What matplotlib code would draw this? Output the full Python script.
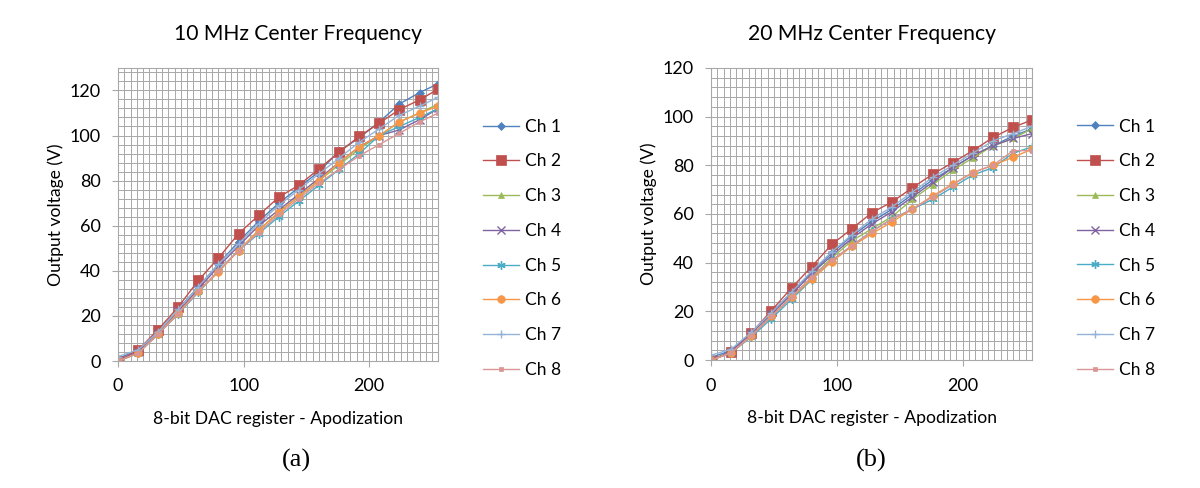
import matplotlib.pyplot as plt
from matplotlib.ticker import MultipleLocator
import numpy as np

plt.rcParams['font.family'] = ['Lato', 'DejaVu Sans']

# DAC register codes (same for both panels)
dac = [0, 16, 32, 48, 64, 80, 96, 112, 128, 144, 160, 176, 192, 208, 224, 240, 255]

channels = ['Ch 1', 'Ch 2', 'Ch 3', 'Ch 4', 'Ch 5', 'Ch 6', 'Ch 7', 'Ch 8']

# 10 MHz center frequency, output voltage (V)
v10_ch1 = [1, 5, 13, 23, 33, 43, 53, 62, 70, 77, 84, 93, 99, 106, 114, 119, 123]
v10_ch2 = [0, 4.9, 14, 24, 35.8, 45.7, 56.5, 64.6, 72.7, 78, 85.2, 92.6, 99.6, 105.5, 111.5, 115.8, 120.6]
v10_ch3 = [0, 3.5, 12, 21, 31, 40, 49, 58, 66, 73, 80, 87, 94, 100, 106, 110, 114]
v10_ch4 = [0, 4, 12.5, 22, 32, 42, 51, 60, 67, 74, 81, 88, 95, 100, 102.5, 107, 112]
v10_ch5 = [0, 3.5, 12, 21, 30.5, 40, 49, 56.5, 64, 71, 78, 85, 92, 100, 104, 108, 112]
v10_ch6 = [0, 3.5, 12, 21.5, 31, 39.5, 49, 58, 66, 73, 80, 88, 95, 100, 106, 110, 113]
v10_ch7 = [2, 5, 13, 23, 33, 43, 52, 61, 69, 76, 83, 90, 97, 103, 109, 113, 117]
v10_ch8 = [0, 3.5, 12, 21, 31, 40, 49, 57, 65, 72, 79, 85, 91, 96, 101, 106, 110]

# 20 MHz center frequency, output voltage (V)
v20_ch1 = [1, 4, 11, 19, 28, 36, 44, 51, 57, 62, 68, 74, 79, 84, 88, 92, 95]
v20_ch2 = [0, 3.4, 11.2, 20.3, 29.7, 38.4, 47.5, 54, 60.6, 65, 70.8, 76.3, 81.1, 86, 91.4, 95.6, 98.6]
v20_ch3 = [0, 3, 10, 18, 26, 34, 42, 49, 54, 59, 66, 72, 78, 83, 88, 91, 95]
v20_ch4 = [0, 3.5, 11, 19, 27, 35.5, 43, 50, 56, 61, 67, 73, 79, 84, 88, 91, 93]
v20_ch5 = [0, 3, 9.5, 17, 25, 33, 41, 47, 53, 58, 62, 66, 71, 76, 79, 85, 87.5]
v20_ch6 = [0, 3, 10, 18, 25.8, 33.2, 40.4, 46.8, 52, 56.8, 62, 67.4, 72.3, 77, 80, 83.3, 86.6]
v20_ch7 = [2, 4.5, 11.5, 19.5, 28, 36.5, 44.5, 51.5, 58, 63, 69, 75, 80, 85, 90, 93, 96]
v20_ch8 = [0, 3, 10, 18, 26, 34, 41, 47, 53, 58, 62, 67, 72, 77, 80, 86, 86]

data10 = [v10_ch1, v10_ch2, v10_ch3, v10_ch4, v10_ch5, v10_ch6, v10_ch7, v10_ch8]
data20 = [v20_ch1, v20_ch2, v20_ch3, v20_ch4, v20_ch5, v20_ch6, v20_ch7, v20_ch8]

# excel 2007 style colours and markers
colors = ['#4F81BD', '#C0504D', '#9BBB59', '#8064A2', '#4BACC6', '#F79646', '#95B3D7', '#D99694']
markers = ['D', 's', '^', 'x', (6, 2, 0), 'o', '+', 's']
msizes = [4, 6.5, 5, 5.5, 6, 5.5, 6, 2.5]

grid_col = '#a8a8a8'

fig = plt.figure(figsize=(12, 4.88), dpi=100)
ax1 = fig.add_axes([0.0983, 0.260, 0.267, 0.601])
ax2 = fig.add_axes([0.5925, 0.262, 0.2675, 0.599])


def draw_panel(ax, data, title, ymax, label, lx, tx):
    for i in range(len(channels)):
        thin = markers[i] in ['x', '+'] or isinstance(markers[i], tuple)
        ax.plot(dac, data[i], color=colors[i], marker=markers[i], markersize=msizes[i],
                linewidth=1.0, markeredgewidth=1.0 if thin else 0.5,
                label=channels[i])
    ax.set_xlim(0, 255)
    ax.set_ylim(0, ymax)
    ax.xaxis.set_major_locator(MultipleLocator(100))
    ax.xaxis.set_minor_locator(MultipleLocator(5))
    ax.yaxis.set_major_locator(MultipleLocator(20))
    ax.yaxis.set_minor_locator(MultipleLocator(4))
    ax.grid(which='both', color=grid_col, linewidth=0.7)
    ax.set_axisbelow(True)
    ax.tick_params(which='minor', length=0)
    ax.tick_params(which='major', length=4.5, color=grid_col, labelsize=13)
    ax.tick_params(axis='x', which='major', pad=8)
    ax.tick_params(axis='y', which='major', pad=8)
    for s in ax.spines.values():
        s.set_color(grid_col)
        s.set_linewidth(0.8)
    ax.set_title(title, fontsize=15.2, pad=20, x=tx)
    ax.set_xlabel('8-bit DAC register - Apodization', fontsize=12.6, labelpad=12)
    ax.set_ylabel('Output voltage (V)', fontsize=12.6, labelpad=4)
    ax.legend(loc='upper left', bbox_to_anchor=(1.09, 0.88), frameon=False,
              fontsize=12.5, labelspacing=1.08, handlelength=2.1, handletextpad=0.35)
    fig.text(lx, 0.057, label, fontsize=19, family='Liberation Serif', ha='center', va='center')


draw_panel(ax1, data10, '10 MHz Center Frequency', 130, '(a)', 0.247, 0.5625)
draw_panel(ax2, data20, '20 MHz Center Frequency', 120, '(b)', 0.726, 0.5)

fig.savefig('out.png', dpi=100, facecolor='white')
